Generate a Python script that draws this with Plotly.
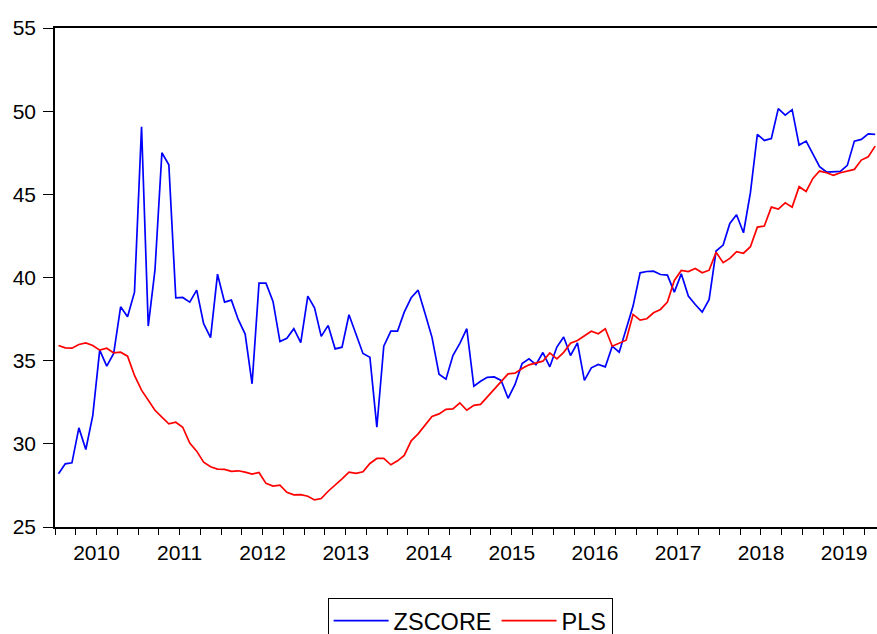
import pandas as pd
import plotly.graph_objects as go

# Monthly observations, 2010M01 .. 2019M11
months = pd.date_range("2010-01-01", periods=119, freq="MS")

zscore = [
    28.20, 28.80, 28.86, 30.96, 29.66, 31.70, 35.63, 34.67, 35.43, 38.24, 37.64, 39.12,
    49.06, 37.08, 40.44, 47.50, 46.78, 38.78, 38.80, 38.52, 39.24, 37.22, 36.38, 40.20,
    38.52, 38.64, 37.48, 36.60, 33.61, 39.66, 39.66, 38.56, 36.15, 36.35, 36.92, 36.09,
    38.88, 38.18, 36.46, 37.12, 35.71, 35.81, 37.76, 36.58, 35.43, 35.21, 31.00, 35.87,
    36.78, 36.78, 37.92, 38.78, 39.24, 37.84, 36.40, 34.19, 33.89, 35.31, 36.04, 36.92,
    33.46, 33.76, 34.00, 34.02, 33.81, 32.74, 33.57, 34.82, 35.11, 34.76, 35.49, 34.63,
    35.82, 36.42, 35.31, 36.07, 33.82, 34.57, 34.77, 34.63, 35.87, 35.51, 36.84, 38.28,
    40.28, 40.36, 40.38, 40.18, 40.14, 39.12, 40.22, 38.88, 38.38, 37.92, 38.68, 41.59,
    41.95, 43.25, 43.77, 42.69, 45.10, 48.60, 48.24, 48.36, 50.15, 49.76, 50.09, 47.96,
    48.20, 47.40, 46.66, 46.34, 46.38, 46.38, 46.74, 48.20, 48.30, 48.64, 48.60,
]

pls = [
    35.91, 35.77, 35.75, 35.97, 36.07, 35.91, 35.63, 35.75, 35.47, 35.51, 35.27, 34.11,
    33.23, 32.63, 32.02, 31.60, 31.20, 31.30, 31.00, 30.05, 29.56, 28.90, 28.62, 28.48,
    28.46, 28.34, 28.38, 28.30, 28.18, 28.28, 27.62, 27.46, 27.52, 27.09, 26.93, 26.95,
    26.85, 26.63, 26.71, 27.15, 27.50, 27.90, 28.30, 28.22, 28.32, 28.82, 29.12, 29.12,
    28.74, 28.98, 29.30, 30.18, 30.60, 31.12, 31.64, 31.80, 32.07, 32.10, 32.46, 32.02,
    32.31, 32.37, 32.83, 33.31, 33.77, 34.21, 34.25, 34.53, 34.75, 34.87, 34.97, 35.47,
    35.11, 35.50, 36.05, 36.21, 36.50, 36.77, 36.62, 36.92, 35.87, 36.07, 36.23, 37.78,
    37.44, 37.52, 37.88, 38.08, 38.52, 39.82, 40.42, 40.36, 40.54, 40.28, 40.44, 41.52,
    40.89, 41.15, 41.55, 41.46, 41.85, 43.03, 43.09, 44.23, 44.11, 44.49, 44.23, 45.46,
    45.17, 45.96, 46.40, 46.30, 46.14, 46.30, 46.40, 46.50, 47.06, 47.26, 47.90,
]

y_ticks = [25, 30, 35, 40, 45, 50, 55]

# each observation drawn at the middle of its month
next_months = months + pd.offsets.MonthBegin(1)
x_mid = months + (next_months - months) / 2

FONT = "Arial, Liberation Sans, Helvetica, sans-serif"
X_RANGE = ["2010-01-01", "2019-11-24"]

fig = go.Figure()
fig.add_trace(go.Scatter(x=x_mid, y=zscore, mode="lines", name="ZSCORE",
                         line=dict(color="#0000FF", width=1.7)))
fig.add_trace(go.Scatter(x=x_mid, y=pls, mode="lines", name="PLS",
                         line=dict(color="#FF0000", width=1.7)))

fig.update_layout(
    width=877, height=634,
    margin=dict(l=55, r=0, t=28, b=107),
    paper_bgcolor="white", plot_bgcolor="white",
    font=dict(family=FONT, color="black", size=21),
    showlegend=True,
    legend=dict(orientation="h", xref="paper", x=0.505, xanchor="center",
                yref="container", y=0.057, yanchor="top",
                bordercolor="black", borderwidth=1, font=dict(size=23.5),
                itemwidth=55),
    xaxis=dict(
        type="date",
        range=X_RANGE,
        tick0="2010-01-01", dtick="M12",
        ticklabelmode="period", tickformat="%Y",
        ticks="outside", ticklen=6, tickwidth=1.3, tickcolor="black",
        minor=dict(dtick="M3", ticks="outside", ticklen=6, tickwidth=1.2, tickcolor="black"),
        showline=True, linecolor="black", linewidth=1.5, mirror=True,
        showgrid=False, zeroline=False,
        tickfont=dict(size=21),
    ),
    # overlay axis that only carries the long year-boundary ticks
    xaxis2=dict(
        type="date", overlaying="x", anchor="y", side="bottom",
        range=X_RANGE,
        tick0="2010-01-01", dtick="M12",
        ticks="outside", ticklen=11, tickwidth=1.3, tickcolor="black",
        showticklabels=False, showline=False, showgrid=False, zeroline=False,
    ),
    yaxis=dict(
        range=[25, 55], tickvals=y_ticks,
        ticks="outside", ticklen=10, tickwidth=1.3, tickcolor="black",
        showline=True, linecolor="black", linewidth=1.5, mirror=False,
        showgrid=False, zeroline=False,
        tickfont=dict(size=21), ticklabelstandoff=3,
    ),
)

fig.write_html(
    "out.html",
    config={"displayModeBar": False},
    post_script="document.body.style.margin='0';document.body.style.overflow='hidden';",
)
